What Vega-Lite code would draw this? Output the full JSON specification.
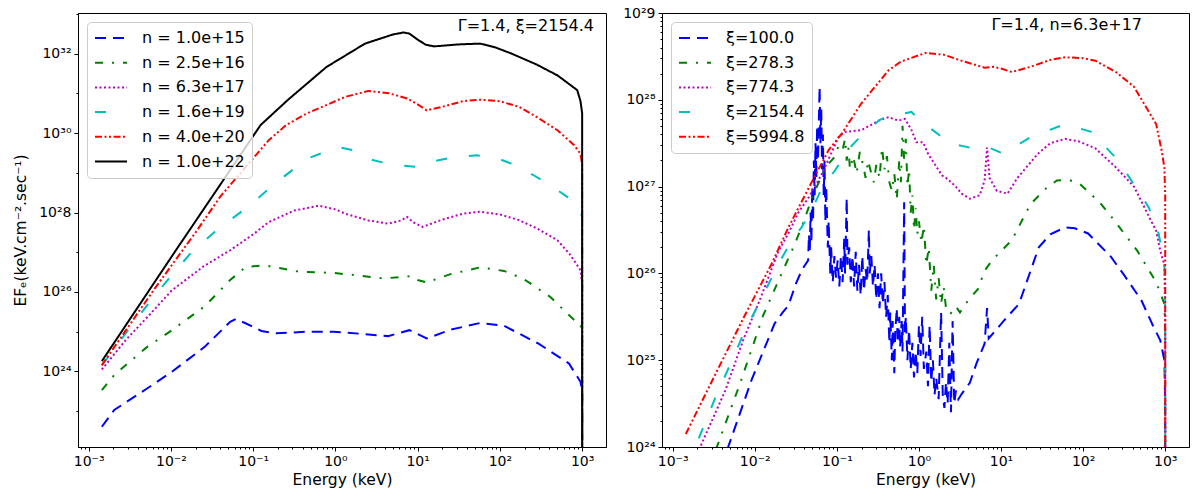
{
  "$schema": "https://vega.github.io/schema/vega-lite/v6.json",
  "background": "white",
  "padding": {"left": 13, "top": 5, "right": 5, "bottom": 5},
  "spacing": 15,
  "datasets": {
    "left": [
      {"s": "n = 1.0e+15", "E": 1.445e-3, "F": 4.074e22},
      {"s": "n = 1.0e+15", "E": 2.042e-3, "F": 1.072e23},
      {"s": "n = 1.0e+15", "E": 5.012e-3, "F": 3.631e23},
      {"s": "n = 1.0e+15", "E": 1.023e-2, "F": 9.772e23},
      {"s": "n = 1.0e+15", "E": 2.570e-2, "F": 4.169e24},
      {"s": "n = 1.0e+15", "E": 5.248e-2, "F": 1.778e25},
      {"s": "n = 1.0e+15", "E": 6.166e-2, "F": 2.089e25},
      {"s": "n = 1.0e+15", "E": 7.943e-2, "F": 1.660e25},
      {"s": "n = 1.0e+15", "E": 1.259e-1, "F": 1.047e25},
      {"s": "n = 1.0e+15", "E": 1.905e-1, "F": 9.120e24},
      {"s": "n = 1.0e+15", "E": 4.467e-1, "F": 1.0e25},
      {"s": "n = 1.0e+15", "E": 9.550e-1, "F": 1.0e25},
      {"s": "n = 1.0e+15", "E": 1.995, "F": 8.913e24},
      {"s": "n = 1.0e+15", "E": 4.365, "F": 7.762e24},
      {"s": "n = 1.0e+15", "E": 7.943, "F": 1.096e25},
      {"s": "n = 1.0e+15", "E": 12.88, "F": 6.761e24},
      {"s": "n = 1.0e+15", "E": 25.12, "F": 1.122e25},
      {"s": "n = 1.0e+15", "E": 57.54, "F": 1.660e25},
      {"s": "n = 1.0e+15", "E": 112.2, "F": 1.413e25},
      {"s": "n = 1.0e+15", "E": 295.1, "F": 5.012e24},
      {"s": "n = 1.0e+15", "E": 691.8, "F": 1.585e24},
      {"s": "n = 1.0e+15", "E": 955.0, "F": 5.495e23},
      {"s": "n = 1.0e+15", "E": 1000, "F": 3.162e23},
      {"s": "n = 1.0e+15", "E": 1002, "F": 1e15},

      {"s": "n = 2.5e+16", "E": 1.445e-3, "F": 3.388e23},
      {"s": "n = 2.5e+16", "E": 2.042e-3, "F": 8.128e23},
      {"s": "n = 2.5e+16", "E": 5.012e-3, "F": 3.981e24},
      {"s": "n = 2.5e+16", "E": 1.096e-2, "F": 1.202e25},
      {"s": "n = 2.5e+16", "E": 2.570e-2, "F": 4.365e25},
      {"s": "n = 2.5e+16", "E": 5.248e-2, "F": 1.995e26},
      {"s": "n = 2.5e+16", "E": 8.128e-2, "F": 4.266e26},
      {"s": "n = 2.5e+16", "E": 1.380e-1, "F": 4.677e26},
      {"s": "n = 2.5e+16", "E": 2.512e-1, "F": 3.715e26},
      {"s": "n = 2.5e+16", "E": 3.631e-1, "F": 3.236e26},
      {"s": "n = 2.5e+16", "E": 9.550e-1, "F": 3.020e26},
      {"s": "n = 2.5e+16", "E": 1.995, "F": 2.570e26},
      {"s": "n = 2.5e+16", "E": 3.890, "F": 2.188e26},
      {"s": "n = 2.5e+16", "E": 6.310, "F": 2.399e26},
      {"s": "n = 2.5e+16", "E": 8.318, "F": 2.512e26},
      {"s": "n = 2.5e+16", "E": 10.0, "F": 1.995e26},
      {"s": "n = 2.5e+16", "E": 12.88, "F": 1.738e26},
      {"s": "n = 2.5e+16", "E": 25.12, "F": 2.818e26},
      {"s": "n = 2.5e+16", "E": 57.54, "F": 4.169e26},
      {"s": "n = 2.5e+16", "E": 112.2, "F": 3.388e26},
      {"s": "n = 2.5e+16", "E": 190.5, "F": 2.188e26},
      {"s": "n = 2.5e+16", "E": 407.4, "F": 7.586e25},
      {"s": "n = 2.5e+16", "E": 562.3, "F": 3.981e25},
      {"s": "n = 2.5e+16", "E": 794.3, "F": 1.995e25},
      {"s": "n = 2.5e+16", "E": 955.0, "F": 1.585e25},
      {"s": "n = 2.5e+16", "E": 1000, "F": 7.943e24},
      {"s": "n = 2.5e+16", "E": 1002, "F": 1e15},

      {"s": "n = 6.3e+17", "E": 1.445e-3, "F": 1.122e24},
      {"s": "n = 6.3e+17", "E": 2.818e-3, "F": 6.166e24},
      {"s": "n = 6.3e+17", "E": 5.623e-3, "F": 2.818e25},
      {"s": "n = 6.3e+17", "E": 1.023e-2, "F": 1.096e26},
      {"s": "n = 6.3e+17", "E": 2.512e-2, "F": 4.467e26},
      {"s": "n = 6.3e+17", "E": 5.248e-2, "F": 1.122e27},
      {"s": "n = 6.3e+17", "E": 1.0e-1, "F": 2.818e27},
      {"s": "n = 6.3e+17", "E": 1.549e-1, "F": 5.754e27},
      {"s": "n = 6.3e+17", "E": 3.162e-1, "F": 1.122e28},
      {"s": "n = 6.3e+17", "E": 6.310e-1, "F": 1.479e28},
      {"s": "n = 6.3e+17", "E": 1.0, "F": 1.202e28},
      {"s": "n = 6.3e+17", "E": 1.318, "F": 9.333e27},
      {"s": "n = 6.3e+17", "E": 2.512, "F": 6.310e27},
      {"s": "n = 6.3e+17", "E": 4.365, "F": 5.248e27},
      {"s": "n = 6.3e+17", "E": 6.310, "F": 6.310e27},
      {"s": "n = 6.3e+17", "E": 7.413, "F": 7.762e27},
      {"s": "n = 6.3e+17", "E": 8.913, "F": 5.623e27},
      {"s": "n = 6.3e+17", "E": 11.48, "F": 4.365e27},
      {"s": "n = 6.3e+17", "E": 19.95, "F": 6.607e27},
      {"s": "n = 6.3e+17", "E": 35.48, "F": 9.333e27},
      {"s": "n = 6.3e+17", "E": 57.54, "F": 1.047e28},
      {"s": "n = 6.3e+17", "E": 100.0, "F": 8.913e27},
      {"s": "n = 6.3e+17", "E": 169.8, "F": 6.457e27},
      {"s": "n = 6.3e+17", "E": 281.8, "F": 3.981e27},
      {"s": "n = 6.3e+17", "E": 501.2, "F": 1.995e27},
      {"s": "n = 6.3e+17", "E": 707.9, "F": 8.913e26},
      {"s": "n = 6.3e+17", "E": 955.0, "F": 3.548e26},
      {"s": "n = 6.3e+17", "E": 1000, "F": 1.585e26},
      {"s": "n = 6.3e+17", "E": 1002, "F": 1e15},

      {"s": "n = 1.6e+19", "E": 1.445e-3, "F": 1.413e24},
      {"s": "n = 1.6e+19", "E": 3.162e-3, "F": 1.259e25},
      {"s": "n = 1.6e+19", "E": 6.026e-3, "F": 7.079e25},
      {"s": "n = 1.6e+19", "E": 1.0e-2, "F": 2.512e26},
      {"s": "n = 1.6e+19", "E": 1.778e-2, "F": 1.0e27},
      {"s": "n = 1.6e+19", "E": 3.802e-2, "F": 3.981e27},
      {"s": "n = 1.6e+19", "E": 8.128e-2, "F": 1.259e28},
      {"s": "n = 1.6e+19", "E": 1.905e-1, "F": 5.623e28},
      {"s": "n = 1.6e+19", "E": 4.467e-1, "F": 2.239e29},
      {"s": "n = 1.6e+19", "E": 1.072, "F": 4.467e29},
      {"s": "n = 1.6e+19", "E": 1.778, "F": 3.548e29},
      {"s": "n = 1.6e+19", "E": 2.818, "F": 2.089e29},
      {"s": "n = 1.6e+19", "E": 5.012, "F": 1.585e29},
      {"s": "n = 1.6e+19", "E": 9.333, "F": 1.413e29},
      {"s": "n = 1.6e+19", "E": 12.59, "F": 1.778e29},
      {"s": "n = 1.6e+19", "E": 25.12, "F": 2.399e29},
      {"s": "n = 1.6e+19", "E": 52.48, "F": 2.754e29},
      {"s": "n = 1.6e+19", "E": 89.13, "F": 2.399e29},
      {"s": "n = 1.6e+19", "E": 138.0, "F": 1.698e29},
      {"s": "n = 1.6e+19", "E": 251.2, "F": 8.913e28},
      {"s": "n = 1.6e+19", "E": 407.4, "F": 4.898e28},
      {"s": "n = 1.6e+19", "E": 631.0, "F": 2.630e28},
      {"s": "n = 1.6e+19", "E": 871.0, "F": 1.698e28},
      {"s": "n = 1.6e+19", "E": 1000, "F": 7.943e27},
      {"s": "n = 1.6e+19", "E": 1002, "F": 1e15},

      {"s": "n = 4.0e+20", "E": 1.445e-3, "F": 1.445e24},
      {"s": "n = 4.0e+20", "E": 6.310e-3, "F": 1.202e26},
      {"s": "n = 4.0e+20", "E": 1.995e-2, "F": 3.162e27},
      {"s": "n = 4.0e+20", "E": 3.981e-2, "F": 2.512e28},
      {"s": "n = 4.0e+20", "E": 8.128e-2, "F": 1.413e29},
      {"s": "n = 4.0e+20", "E": 1.549e-1, "F": 6.607e29},
      {"s": "n = 4.0e+20", "E": 2.512e-1, "F": 1.585e30},
      {"s": "n = 4.0e+20", "E": 4.467e-1, "F": 3.090e30},
      {"s": "n = 4.0e+20", "E": 1.318, "F": 8.128e30},
      {"s": "n = 4.0e+20", "E": 2.512, "F": 1.148e31},
      {"s": "n = 4.0e+20", "E": 4.467, "F": 1.0e31},
      {"s": "n = 4.0e+20", "E": 7.413, "F": 7.413e30},
      {"s": "n = 4.0e+20", "E": 10.0, "F": 5.248e30},
      {"s": "n = 4.0e+20", "E": 12.88, "F": 3.715e30},
      {"s": "n = 4.0e+20", "E": 19.95, "F": 4.571e30},
      {"s": "n = 4.0e+20", "E": 35.48, "F": 6.310e30},
      {"s": "n = 4.0e+20", "E": 57.54, "F": 6.918e30},
      {"s": "n = 4.0e+20", "E": 100.0, "F": 6.310e30},
      {"s": "n = 4.0e+20", "E": 169.8, "F": 4.571e30},
      {"s": "n = 4.0e+20", "E": 281.8, "F": 2.512e30},
      {"s": "n = 4.0e+20", "E": 501.2, "F": 1.175e30},
      {"s": "n = 4.0e+20", "E": 794.3, "F": 5.012e29},
      {"s": "n = 4.0e+20", "E": 955.0, "F": 3.020e29},
      {"s": "n = 4.0e+20", "E": 1000, "F": 1.585e29},
      {"s": "n = 4.0e+20", "E": 1002, "F": 1e15},

      {"s": "n = 1.0e+22", "E": 1.445e-3, "F": 1.820e24},
      {"s": "n = 1.0e+22", "E": 1.148e-2, "F": 1.122e27},
      {"s": "n = 1.0e+22", "E": 1.230e-1, "F": 1.585e30},
      {"s": "n = 1.0e+22", "E": 2.630e-1, "F": 6.761e30},
      {"s": "n = 1.0e+22", "E": 7.762e-1, "F": 4.571e31},
      {"s": "n = 1.0e+22", "E": 2.291, "F": 1.778e32},
      {"s": "n = 1.0e+22", "E": 5.012, "F": 3.020e32},
      {"s": "n = 1.0e+22", "E": 6.761, "F": 3.388e32},
      {"s": "n = 1.0e+22", "E": 7.943, "F": 3.162e32},
      {"s": "n = 1.0e+22", "E": 10.0, "F": 2.239e32},
      {"s": "n = 1.0e+22", "E": 12.59, "F": 1.660e32},
      {"s": "n = 1.0e+22", "E": 15.85, "F": 1.514e32},
      {"s": "n = 1.0e+22", "E": 31.62, "F": 1.698e32},
      {"s": "n = 1.0e+22", "E": 57.54, "F": 1.778e32},
      {"s": "n = 1.0e+22", "E": 89.13, "F": 1.413e32},
      {"s": "n = 1.0e+22", "E": 138.0, "F": 1.0e32},
      {"s": "n = 1.0e+22", "E": 281.8, "F": 5.248e31},
      {"s": "n = 1.0e+22", "E": 501.2, "F": 2.818e31},
      {"s": "n = 1.0e+22", "E": 871.0, "F": 1.202e31},
      {"s": "n = 1.0e+22", "E": 955.0, "F": 6.310e30},
      {"s": "n = 1.0e+22", "E": 1000, "F": 3.162e30},
      {"s": "n = 1.0e+22", "E": 1002, "F": 1e15}
    ],
    "right": [
      {"s": "ξ=100.0", "E": 1.445e-3, "F": 3.981e22},
      {"s": "ξ=100.0", "E": 2.512e-3, "F": 1.778e23},
      {"s": "ξ=100.0", "E": 4.786e-3, "F": 1.023e24},
      {"s": "ξ=100.0", "E": 9.120e-3, "F": 5.888e24},
      {"s": "ξ=100.0", "E": 1.738e-2, "F": 2.630e25},
      {"s": "ξ=100.0", "E": 2.188e-2, "F": 3.548e25},
      {"s": "ξ=100.0", "E": 2.570e-2, "F": 4.266e25},
      {"s": "ξ=100.0", "E": 3.162e-2, "F": 7.586e25},
      {"s": "ξ=100.0", "E": 3.802e-2, "F": 1.122e26},
      {"s": "ξ=100.0", "E": 4.467e-2, "F": 1.413e26},
      {"s": "ξ=100.0", "E": 4.571e-2, "F": 2.818e26},
      {"s": "ξ=100.0", "E": 4.677e-2, "F": 1.778e26},
      {"s": "ξ=100.0", "E": 4.786e-2, "F": 5.012e26},
      {"s": "ξ=100.0", "E": 4.898e-2, "F": 2.239e26},
      {"s": "ξ=100.0", "E": 5.012e-2, "F": 1.0e27},
      {"s": "ξ=100.0", "E": 5.129e-2, "F": 3.981e26},
      {"s": "ξ=100.0", "E": 5.248e-2, "F": 1.995e27},
      {"s": "ξ=100.0", "E": 5.370e-2, "F": 7.943e26},
      {"s": "ξ=100.0", "E": 5.495e-2, "F": 3.162e27},
      {"s": "ξ=100.0", "E": 5.623e-2, "F": 1.259e27},
      {"s": "ξ=100.0", "E": 5.754e-2, "F": 5.012e27},
      {"s": "ξ=100.0", "E": 5.888e-2, "F": 1.995e27},
      {"s": "ξ=100.0", "E": 6.166e-2, "F": 1.413e28},
      {"s": "ξ=100.0", "E": 6.310e-2, "F": 3.162e27},
      {"s": "ξ=100.0", "E": 6.457e-2, "F": 7.943e27},
      {"s": "ξ=100.0", "E": 6.607e-2, "F": 1.585e27},
      {"s": "ξ=100.0", "E": 6.761e-2, "F": 3.981e27},
      {"s": "ξ=100.0", "E": 6.918e-2, "F": 7.943e26},
      {"s": "ξ=100.0", "E": 7.079e-2, "F": 1.995e27},
      {"s": "ξ=100.0", "E": 7.244e-2, "F": 3.981e26},
      {"s": "ξ=100.0", "E": 7.413e-2, "F": 1.0e27},
      {"s": "ξ=100.0", "E": 7.762e-2, "F": 1.995e26},
      {"s": "ξ=100.0", "E": 7.943e-2, "F": 3.981e26},
      {"s": "ξ=100.0", "E": 8.318e-2, "F": 1.0e26},
      {"s": "ξ=100.0", "E": 8.511e-2, "F": 1.995e26},
      {"s": "ξ=100.0", "E": 8.913e-2, "F": 7.943e25},
      {"s": "ξ=100.0", "E": 9.333e-2, "F": 1.585e26},
      {"s": "ξ=100.0", "E": 9.772e-2, "F": 8.913e25},
      {"s": "ξ=100.0", "E": 1.023e-1, "F": 1.413e26},
      {"s": "ξ=100.0", "E": 1.072e-1, "F": 7.079e25},
      {"s": "ξ=100.0", "E": 1.122e-1, "F": 1.585e26},
      {"s": "ξ=100.0", "E": 1.175e-1, "F": 7.943e25},
      {"s": "ξ=100.0", "E": 1.230e-1, "F": 2.512e26},
      {"s": "ξ=100.0", "E": 1.259e-1, "F": 1.0e26},
      {"s": "ξ=100.0", "E": 1.318e-1, "F": 7.413e26},
      {"s": "ξ=100.0", "E": 1.349e-1, "F": 1.259e26},
      {"s": "ξ=100.0", "E": 1.413e-1, "F": 1.995e26},
      {"s": "ξ=100.0", "E": 1.479e-1, "F": 7.943e25},
      {"s": "ξ=100.0", "E": 1.549e-1, "F": 1.585e26},
      {"s": "ξ=100.0", "E": 1.622e-1, "F": 7.079e25},
      {"s": "ξ=100.0", "E": 1.698e-1, "F": 1.778e26},
      {"s": "ξ=100.0", "E": 1.778e-1, "F": 6.310e25},
      {"s": "ξ=100.0", "E": 1.862e-1, "F": 1.259e26},
      {"s": "ξ=100.0", "E": 1.950e-1, "F": 5.623e25},
      {"s": "ξ=100.0", "E": 2.042e-1, "F": 1.585e26},
      {"s": "ξ=100.0", "E": 2.138e-1, "F": 6.310e25},
      {"s": "ξ=100.0", "E": 2.239e-1, "F": 1.122e26},
      {"s": "ξ=100.0", "E": 2.344e-1, "F": 7.943e25},
      {"s": "ξ=100.0", "E": 2.455e-1, "F": 3.162e26},
      {"s": "ξ=100.0", "E": 2.512e-1, "F": 1.0e26},
      {"s": "ξ=100.0", "E": 2.630e-1, "F": 1.585e26},
      {"s": "ξ=100.0", "E": 2.754e-1, "F": 7.079e25},
      {"s": "ξ=100.0", "E": 2.884e-1, "F": 1.259e26},
      {"s": "ξ=100.0", "E": 3.020e-1, "F": 5.012e25},
      {"s": "ξ=100.0", "E": 3.162e-1, "F": 1.0e26},
      {"s": "ξ=100.0", "E": 3.311e-1, "F": 3.981e25},
      {"s": "ξ=100.0", "E": 3.467e-1, "F": 1.0e26},
      {"s": "ξ=100.0", "E": 3.631e-1, "F": 4.467e25},
      {"s": "ξ=100.0", "E": 3.802e-1, "F": 7.943e25},
      {"s": "ξ=100.0", "E": 3.981e-1, "F": 3.162e25},
      {"s": "ξ=100.0", "E": 4.169e-1, "F": 5.623e25},
      {"s": "ξ=100.0", "E": 4.365e-1, "F": 1.585e25},
      {"s": "ξ=100.0", "E": 4.467e-1, "F": 3.548e25},
      {"s": "ξ=100.0", "E": 4.677e-1, "F": 1.0e25},
      {"s": "ξ=100.0", "E": 4.786e-1, "F": 2.818e25},
      {"s": "ξ=100.0", "E": 5.012e-1, "F": 7.079e24},
      {"s": "ξ=100.0", "E": 5.129e-1, "F": 1.995e25},
      {"s": "ξ=100.0", "E": 5.370e-1, "F": 3.981e25},
      {"s": "ξ=100.0", "E": 5.495e-1, "F": 1.585e25},
      {"s": "ξ=100.0", "E": 5.754e-1, "F": 3.162e25},
      {"s": "ξ=100.0", "E": 5.888e-1, "F": 1.413e25},
      {"s": "ξ=100.0", "E": 6.166e-1, "F": 2.818e25},
      {"s": "ξ=100.0", "E": 6.310e-1, "F": 1.259e25},
      {"s": "ξ=100.0", "E": 6.607e-1, "F": 6.607e26},
      {"s": "ξ=100.0", "E": 6.761e-1, "F": 1.995e25},
      {"s": "ξ=100.0", "E": 6.918e-1, "F": 3.162e25},
      {"s": "ξ=100.0", "E": 7.244e-1, "F": 1.0e25},
      {"s": "ξ=100.0", "E": 7.586e-1, "F": 2.239e25},
      {"s": "ξ=100.0", "E": 7.943e-1, "F": 7.943e24},
      {"s": "ξ=100.0", "E": 8.318e-1, "F": 1.585e25},
      {"s": "ξ=100.0", "E": 8.710e-1, "F": 6.310e24},
      {"s": "ξ=100.0", "E": 9.120e-1, "F": 1.259e25},
      {"s": "ξ=100.0", "E": 9.550e-1, "F": 7.079e24},
      {"s": "ξ=100.0", "E": 1.0, "F": 2.512e25},
      {"s": "ξ=100.0", "E": 1.047, "F": 1.122e25},
      {"s": "ξ=100.0", "E": 1.096, "F": 3.162e25},
      {"s": "ξ=100.0", "E": 1.148, "F": 7.943e24},
      {"s": "ξ=100.0", "E": 1.230, "F": 1.259e25},
      {"s": "ξ=100.0", "E": 1.288, "F": 5.012e24},
      {"s": "ξ=100.0", "E": 1.349, "F": 2.512e25},
      {"s": "ξ=100.0", "E": 1.413, "F": 5.623e24},
      {"s": "ξ=100.0", "E": 1.479, "F": 1.0e25},
      {"s": "ξ=100.0", "E": 1.549, "F": 3.981e24},
      {"s": "ξ=100.0", "E": 1.622, "F": 6.310e24},
      {"s": "ξ=100.0", "E": 1.738, "F": 3.548e24},
      {"s": "ξ=100.0", "E": 1.862, "F": 3.548e25},
      {"s": "ξ=100.0", "E": 1.950, "F": 3.981e24},
      {"s": "ξ=100.0", "E": 2.042, "F": 2.818e24},
      {"s": "ξ=100.0", "E": 2.138, "F": 5.623e24},
      {"s": "ξ=100.0", "E": 2.239, "F": 3.162e24},
      {"s": "ξ=100.0", "E": 2.344, "F": 1.585e25},
      {"s": "ξ=100.0", "E": 2.455, "F": 2.512e24},
      {"s": "ξ=100.0", "E": 2.570, "F": 2.818e25},
      {"s": "ξ=100.0", "E": 2.692, "F": 3.162e24},
      {"s": "ξ=100.0", "E": 2.818, "F": 4.467e24},
      {"s": "ξ=100.0", "E": 3.020, "F": 3.548e24},
      {"s": "ξ=100.0", "E": 3.311, "F": 4.074e24},
      {"s": "ξ=100.0", "E": 4.169, "F": 5.495e24},
      {"s": "ξ=100.0", "E": 5.012, "F": 9.120e24},
      {"s": "ξ=100.0", "E": 6.310, "F": 1.549e25},
      {"s": "ξ=100.0", "E": 6.761, "F": 3.981e25},
      {"s": "ξ=100.0", "E": 7.079, "F": 1.778e25},
      {"s": "ξ=100.0", "E": 10.72, "F": 2.818e25},
      {"s": "ξ=100.0", "E": 16.60, "F": 4.467e25},
      {"s": "ξ=100.0", "E": 22.91, "F": 1.072e26},
      {"s": "ξ=100.0", "E": 28.84, "F": 1.995e26},
      {"s": "ξ=100.0", "E": 39.81, "F": 2.818e26},
      {"s": "ξ=100.0", "E": 60.26, "F": 3.388e26},
      {"s": "ξ=100.0", "E": 79.43, "F": 3.311e26},
      {"s": "ξ=100.0", "E": 114.8, "F": 2.884e26},
      {"s": "ξ=100.0", "E": 218.8, "F": 1.549e26},
      {"s": "ξ=100.0", "E": 316.2, "F": 9.550e25},
      {"s": "ξ=100.0", "E": 512.9, "F": 4.898e25},
      {"s": "ξ=100.0", "E": 707.9, "F": 2.512e25},
      {"s": "ξ=100.0", "E": 871.0, "F": 1.698e25},
      {"s": "ξ=100.0", "E": 977.2, "F": 1.0e25},
      {"s": "ξ=100.0", "E": 1000, "F": 3.162e24},
      {"s": "ξ=100.0", "E": 1002, "F": 1e15},

      {"s": "ξ=278.3", "E": 1.445e-3, "F": 1.175e23},
      {"s": "ξ=278.3", "E": 3.548e-3, "F": 1.072e24},
      {"s": "ξ=278.3", "E": 6.607e-3, "F": 5.370e24},
      {"s": "ξ=278.3", "E": 1.259e-2, "F": 3.236e25},
      {"s": "ξ=278.3", "E": 1.950e-2, "F": 8.318e25},
      {"s": "ξ=278.3", "E": 2.951e-2, "F": 1.995e26},
      {"s": "ξ=278.3", "E": 3.715e-2, "F": 3.388e26},
      {"s": "ξ=278.3", "E": 5.129e-2, "F": 7.943e26},
      {"s": "ξ=278.3", "E": 7.244e-2, "F": 1.660e27},
      {"s": "ξ=278.3", "E": 9.550e-2, "F": 2.239e27},
      {"s": "ξ=278.3", "E": 1.047e-1, "F": 2.951e27},
      {"s": "ξ=278.3", "E": 1.175e-1, "F": 2.630e27},
      {"s": "ξ=278.3", "E": 1.259e-1, "F": 3.548e27},
      {"s": "ξ=278.3", "E": 1.318e-1, "F": 1.995e27},
      {"s": "ξ=278.3", "E": 1.380e-1, "F": 2.818e27},
      {"s": "ξ=278.3", "E": 1.445e-1, "F": 1.585e27},
      {"s": "ξ=278.3", "E": 1.585e-1, "F": 2.239e27},
      {"s": "ξ=278.3", "E": 1.738e-1, "F": 1.413e27},
      {"s": "ξ=278.3", "E": 1.905e-1, "F": 2.512e27},
      {"s": "ξ=278.3", "E": 2.089e-1, "F": 1.778e27},
      {"s": "ξ=278.3", "E": 2.239e-1, "F": 1.259e27},
      {"s": "ξ=278.3", "E": 2.399e-1, "F": 1.995e27},
      {"s": "ξ=278.3", "E": 2.630e-1, "F": 1.413e27},
      {"s": "ξ=278.3", "E": 2.818e-1, "F": 1.122e27},
      {"s": "ξ=278.3", "E": 3.020e-1, "F": 1.778e27},
      {"s": "ξ=278.3", "E": 3.311e-1, "F": 1.259e27},
      {"s": "ξ=278.3", "E": 3.548e-1, "F": 2.818e27},
      {"s": "ξ=278.3", "E": 3.802e-1, "F": 1.585e27},
      {"s": "ξ=278.3", "E": 4.074e-1, "F": 2.239e27},
      {"s": "ξ=278.3", "E": 4.365e-1, "F": 1.122e27},
      {"s": "ξ=278.3", "E": 4.677e-1, "F": 8.913e26},
      {"s": "ξ=278.3", "E": 5.012e-1, "F": 1.413e27},
      {"s": "ξ=278.3", "E": 5.370e-1, "F": 7.079e26},
      {"s": "ξ=278.3", "E": 5.754e-1, "F": 1.995e27},
      {"s": "ξ=278.3", "E": 6.026e-1, "F": 1.122e27},
      {"s": "ξ=278.3", "E": 6.310e-1, "F": 5.012e27},
      {"s": "ξ=278.3", "E": 6.607e-1, "F": 1.995e27},
      {"s": "ξ=278.3", "E": 6.918e-1, "F": 3.548e27},
      {"s": "ξ=278.3", "E": 7.244e-1, "F": 1.0e27},
      {"s": "ξ=278.3", "E": 7.586e-1, "F": 1.585e27},
      {"s": "ξ=278.3", "E": 7.943e-1, "F": 5.012e26},
      {"s": "ξ=278.3", "E": 8.318e-1, "F": 7.943e26},
      {"s": "ξ=278.3", "E": 8.710e-1, "F": 3.162e26},
      {"s": "ξ=278.3", "E": 9.120e-1, "F": 5.623e26},
      {"s": "ξ=278.3", "E": 9.550e-1, "F": 2.818e26},
      {"s": "ξ=278.3", "E": 1.0, "F": 3.981e26},
      {"s": "ξ=278.3", "E": 1.072, "F": 2.239e26},
      {"s": "ξ=278.3", "E": 1.148, "F": 3.548e26},
      {"s": "ξ=278.3", "E": 1.230, "F": 1.259e26},
      {"s": "ξ=278.3", "E": 1.318, "F": 1.995e26},
      {"s": "ξ=278.3", "E": 1.413, "F": 6.310e25},
      {"s": "ξ=278.3", "E": 1.514, "F": 1.259e26},
      {"s": "ξ=278.3", "E": 1.622, "F": 5.012e25},
      {"s": "ξ=278.3", "E": 1.738, "F": 8.913e25},
      {"s": "ξ=278.3", "E": 1.862, "F": 4.467e25},
      {"s": "ξ=278.3", "E": 1.995, "F": 7.079e25},
      {"s": "ξ=278.3", "E": 2.138, "F": 3.981e25},
      {"s": "ξ=278.3", "E": 2.399, "F": 3.388e25},
      {"s": "ξ=278.3", "E": 2.818, "F": 4.169e25},
      {"s": "ξ=278.3", "E": 3.162, "F": 3.548e25},
      {"s": "ξ=278.3", "E": 3.981, "F": 4.898e25},
      {"s": "ξ=278.3", "E": 5.248, "F": 6.607e25},
      {"s": "ξ=278.3", "E": 6.310, "F": 1.072e26},
      {"s": "ξ=278.3", "E": 7.762, "F": 1.413e26},
      {"s": "ξ=278.3", "E": 13.49, "F": 2.399e26},
      {"s": "ξ=278.3", "E": 22.91, "F": 6.310e26},
      {"s": "ξ=278.3", "E": 35.48, "F": 9.550e26},
      {"s": "ξ=278.3", "E": 47.86, "F": 1.175e27},
      {"s": "ξ=278.3", "E": 66.07, "F": 1.202e27},
      {"s": "ξ=278.3", "E": 91.20, "F": 1.072e27},
      {"s": "ξ=278.3", "E": 158.5, "F": 6.607e26},
      {"s": "ξ=278.3", "E": 239.9, "F": 4.074e26},
      {"s": "ξ=278.3", "E": 457.1, "F": 1.820e26},
      {"s": "ξ=278.3", "E": 776.2, "F": 7.943e25},
      {"s": "ξ=278.3", "E": 977.2, "F": 4.467e25},
      {"s": "ξ=278.3", "E": 1000, "F": 1.995e25},
      {"s": "ξ=278.3", "E": 1002, "F": 1e15},

      {"s": "ξ=774.3", "E": 1.445e-3, "F": 4.365e23},
      {"s": "ξ=774.3", "E": 2.188e-3, "F": 1.023e24},
      {"s": "ξ=774.3", "E": 4.365e-3, "F": 4.467e24},
      {"s": "ξ=774.3", "E": 7.413e-3, "F": 1.820e25},
      {"s": "ξ=774.3", "E": 1.148e-2, "F": 4.898e25},
      {"s": "ξ=774.3", "E": 1.950e-2, "F": 1.820e26},
      {"s": "ξ=774.3", "E": 2.570e-2, "F": 2.884e26},
      {"s": "ξ=774.3", "E": 3.388e-2, "F": 5.012e26},
      {"s": "ξ=774.3", "E": 4.571e-2, "F": 7.586e26},
      {"s": "ξ=774.3", "E": 6.607e-2, "F": 1.413e27},
      {"s": "ξ=774.3", "E": 1.047e-1, "F": 3.715e27},
      {"s": "ξ=774.3", "E": 1.259e-1, "F": 4.266e27},
      {"s": "ξ=774.3", "E": 1.995e-1, "F": 4.467e27},
      {"s": "ξ=774.3", "E": 3.236e-1, "F": 5.754e27},
      {"s": "ξ=774.3", "E": 4.266e-1, "F": 6.310e27},
      {"s": "ξ=774.3", "E": 5.623e-1, "F": 5.754e27},
      {"s": "ξ=774.3", "E": 6.761e-1, "F": 6.026e27},
      {"s": "ξ=774.3", "E": 8.128e-1, "F": 4.467e27},
      {"s": "ξ=774.3", "E": 9.333e-1, "F": 3.236e27},
      {"s": "ξ=774.3", "E": 1.122, "F": 3.236e27},
      {"s": "ξ=774.3", "E": 1.288, "F": 2.399e27},
      {"s": "ξ=774.3", "E": 1.905, "F": 1.349e27},
      {"s": "ξ=774.3", "E": 2.138, "F": 1.259e27},
      {"s": "ξ=774.3", "E": 2.754, "F": 1.023e27},
      {"s": "ξ=774.3", "E": 3.311, "F": 8.318e26},
      {"s": "ξ=774.3", "E": 4.169, "F": 7.244e26},
      {"s": "ξ=774.3", "E": 5.495, "F": 7.943e26},
      {"s": "ξ=774.3", "E": 6.310, "F": 1.175e27},
      {"s": "ξ=774.3", "E": 6.761, "F": 2.818e27},
      {"s": "ξ=774.3", "E": 7.244, "F": 1.259e27},
      {"s": "ξ=774.3", "E": 8.913, "F": 8.913e26},
      {"s": "ξ=774.3", "E": 12.02, "F": 8.318e26},
      {"s": "ξ=774.3", "E": 15.85, "F": 1.259e27},
      {"s": "ξ=774.3", "E": 28.18, "F": 2.399e27},
      {"s": "ξ=774.3", "E": 39.81, "F": 3.162e27},
      {"s": "ξ=774.3", "E": 60.26, "F": 3.548e27},
      {"s": "ξ=774.3", "E": 89.13, "F": 3.311e27},
      {"s": "ξ=774.3", "E": 141.3, "F": 2.754e27},
      {"s": "ξ=774.3", "E": 251.2, "F": 1.660e27},
      {"s": "ξ=774.3", "E": 416.9, "F": 1.0e27},
      {"s": "ξ=774.3", "E": 776.2, "F": 3.090e26},
      {"s": "ξ=774.3", "E": 871.0, "F": 1.820e26},
      {"s": "ξ=774.3", "E": 977.2, "F": 1.259e26},
      {"s": "ξ=774.3", "E": 1000, "F": 3.162e25},
      {"s": "ξ=774.3", "E": 1002, "F": 1e15},

      {"s": "ξ=2154.4", "E": 1.445e-3, "F": 5.623e23},
      {"s": "ξ=2154.4", "E": 2.188e-3, "F": 1.413e24},
      {"s": "ξ=2154.4", "E": 3.311e-3, "F": 3.715e24},
      {"s": "ξ=2154.4", "E": 5.129e-3, "F": 9.333e24},
      {"s": "ξ=2154.4", "E": 7.413e-3, "F": 2.089e25},
      {"s": "ξ=2154.4", "E": 1.202e-2, "F": 5.129e25},
      {"s": "ξ=2154.4", "E": 1.950e-2, "F": 1.288e26},
      {"s": "ξ=2154.4", "E": 2.818e-2, "F": 2.399e26},
      {"s": "ξ=2154.4", "E": 3.715e-2, "F": 3.388e26},
      {"s": "ξ=2154.4", "E": 5.248e-2, "F": 6.026e26},
      {"s": "ξ=2154.4", "E": 6.607e-2, "F": 9.772e26},
      {"s": "ξ=2154.4", "E": 9.550e-2, "F": 1.549e27},
      {"s": "ξ=2154.4", "E": 1.445e-1, "F": 2.818e27},
      {"s": "ξ=2154.4", "E": 1.820e-1, "F": 3.548e27},
      {"s": "ξ=2154.4", "E": 3.236e-1, "F": 5.754e27},
      {"s": "ξ=2154.4", "E": 4.266e-1, "F": 6.607e27},
      {"s": "ξ=2154.4", "E": 6.310e-1, "F": 6.918e27},
      {"s": "ξ=2154.4", "E": 8.128e-1, "F": 7.244e27},
      {"s": "ξ=2154.4", "E": 9.772e-1, "F": 6.026e27},
      {"s": "ξ=2154.4", "E": 1.905, "F": 3.715e27},
      {"s": "ξ=2154.4", "E": 2.138, "F": 3.236e27},
      {"s": "ξ=2154.4", "E": 4.571, "F": 2.754e27},
      {"s": "ξ=2154.4", "E": 5.754, "F": 2.951e27},
      {"s": "ξ=2154.4", "E": 7.079, "F": 2.818e27},
      {"s": "ξ=2154.4", "E": 10.72, "F": 2.399e27},
      {"s": "ξ=2154.4", "E": 22.91, "F": 3.715e27},
      {"s": "ξ=2154.4", "E": 60.26, "F": 5.248e27},
      {"s": "ξ=2154.4", "E": 125.9, "F": 4.266e27},
      {"s": "ξ=2154.4", "E": 269.2, "F": 1.995e27},
      {"s": "ξ=2154.4", "E": 631.0, "F": 5.754e26},
      {"s": "ξ=2154.4", "E": 831.8, "F": 2.884e26},
      {"s": "ξ=2154.4", "E": 977.2, "F": 1.259e26},
      {"s": "ξ=2154.4", "E": 1000, "F": 3.981e25},
      {"s": "ξ=2154.4", "E": 1002, "F": 1e15},

      {"s": "ξ=5994.8", "E": 1.445e-3, "F": 1.413e24},
      {"s": "ξ=5994.8", "E": 3.162e-3, "F": 6.310e24},
      {"s": "ξ=5994.8", "E": 7.413e-3, "F": 3.162e25},
      {"s": "ξ=5994.8", "E": 1.585e-2, "F": 1.259e26},
      {"s": "ξ=5994.8", "E": 2.570e-2, "F": 3.388e26},
      {"s": "ξ=5994.8", "E": 4.571e-2, "F": 9.772e26},
      {"s": "ξ=5994.8", "E": 7.943e-2, "F": 2.630e27},
      {"s": "ξ=5994.8", "E": 1.148e-1, "F": 4.074e27},
      {"s": "ξ=5994.8", "E": 1.995e-1, "F": 9.120e27},
      {"s": "ξ=5994.8", "E": 4.266e-1, "F": 2.188e28},
      {"s": "ξ=5994.8", "E": 6.026e-1, "F": 2.754e28},
      {"s": "ξ=5994.8", "E": 1.202, "F": 3.467e28},
      {"s": "ξ=5994.8", "E": 1.995, "F": 3.311e28},
      {"s": "ξ=5994.8", "E": 3.311, "F": 2.818e28},
      {"s": "ξ=5994.8", "E": 6.310, "F": 2.344e28},
      {"s": "ξ=5994.8", "E": 7.943, "F": 2.399e28},
      {"s": "ξ=5994.8", "E": 10.0, "F": 2.291e28},
      {"s": "ξ=5994.8", "E": 13.49, "F": 2.089e28},
      {"s": "ξ=5994.8", "E": 22.91, "F": 2.399e28},
      {"s": "ξ=5994.8", "E": 39.81, "F": 2.884e28},
      {"s": "ξ=5994.8", "E": 60.26, "F": 3.090e28},
      {"s": "ξ=5994.8", "E": 100.0, "F": 3.020e28},
      {"s": "ξ=5994.8", "E": 141.3, "F": 2.818e28},
      {"s": "ξ=5994.8", "E": 251.2, "F": 2.089e28},
      {"s": "ξ=5994.8", "E": 416.9, "F": 1.413e28},
      {"s": "ξ=5994.8", "E": 776.2, "F": 5.248e27},
      {"s": "ξ=5994.8", "E": 912.0, "F": 2.512e27},
      {"s": "ξ=5994.8", "E": 977.2, "F": 1.660e27},
      {"s": "ξ=5994.8", "E": 1000, "F": 7.943e26},
      {"s": "ξ=5994.8", "E": 1002, "F": 1e15}
    ]
  },
  "hconcat": [
    {
      "width": 528,
      "height": 434,
      "data": {"name": "left"},
      "title": {"text": "Γ=1.4, ξ=2154.4", "anchor": "end", "frame": "group", "offset": -27, "dx": -12},
      "mark": {"type": "line", "clip": true, "strokeWidth": 2},
      "encoding": {
        "x": {
          "field": "E", "type": "quantitative", "title": "Energy (keV)",
          "scale": {"type": "log", "domain": [7.41e-4, 1950], "nice": false},
          "axis": {
            "values": [0.0008,0.0009,0.001,0.002,0.003,0.004,0.005,0.006,0.007,0.008,0.009,0.01,0.02,0.03,0.04,0.05,0.06,0.07,0.08,0.09,0.1,0.2,0.3,0.4,0.5,0.6,0.7,0.8,0.9,1,2,3,4,5,6,7,8,9,10,20,30,40,50,60,70,80,90,100,200,300,400,500,600,700,800,900,1000],
            "labelOverlap": false,
            "labelExpr": "abs(log(datum.value)/LN10 - round(log(datum.value)/LN10)) < 0.001 ? '10' + replace(replace(replace(replace(replace(toString(round(log(datum.value)/LN10)), '-', '⁻'), '0', '⁰'), '1', '¹'), '2', '²'), '3', '³') : ''",
            "tickSize": {"condition": {"test": "abs(log(datum.value)/LN10 - round(log(datum.value)/LN10)) > 0.001", "value": 2}, "value": 4}
          }
        },
        "y": {
          "field": "F", "type": "quantitative", "title": "EFₑ(keV.cm⁻².sec⁻¹)",
          "scale": {"type": "log", "domain": [1.259e22, 1.047e33], "nice": false},
          "axis": {
            "values": [1e23,1e24,1e25,1e26,1e27,1e28,1e29,1e30,1e31,1e32,1e33],
            "labelOverlap": false,
            "titlePadding": 10,
            "labelExpr": "round(log(datum.value)/LN10) % 2 == 0 ? '10' + replace(replace(replace(replace(replace(toString(round(log(datum.value)/LN10)), regexp('2','g'), '²'), regexp('3','g'), '³'), '4', '⁴'), '6', '⁶'), '0', '⁰') : ''",
            "tickSize": {"condition": {"test": "round(log(datum.value)/LN10) % 2 != 0", "value": 2}, "value": 4}
          }
        },
        "color": {
          "field": "s", "type": "nominal",
          "scale": {"domain": ["n = 1.0e+15","n = 2.5e+16","n = 6.3e+17","n = 1.6e+19","n = 4.0e+20","n = 1.0e+22"], "range": ["#0000ff","#008000","#bf00bf","#00bfbf","#ff0000","#000000"]},
          "legend": {"title": null}
        },
        "strokeDash": {
          "field": "s", "type": "nominal",
          "scale": {"domain": ["n = 1.0e+15","n = 2.5e+16","n = 6.3e+17","n = 1.6e+19","n = 4.0e+20","n = 1.0e+22"], "range": [[11,7],[8,9,2,9],[2,2.5],[11,22],[7,2.5,2,2.5,2,2.5],[1,0]]},
          "legend": {"title": null}
        }
      }
    },
    {
      "width": 527,
      "height": 434,
      "data": {"name": "right"},
      "title": {"text": "Γ=1.4, n=6.3e+17", "anchor": "end", "frame": "group", "offset": -27, "dx": -47},
      "mark": {"type": "line", "clip": true, "strokeWidth": 2},
      "encoding": {
        "x": {
          "field": "E", "type": "quantitative", "title": "Energy (keV)",
          "scale": {"type": "log", "domain": [7.41e-4, 1950], "nice": false},
          "axis": {
            "values": [0.0008,0.0009,0.001,0.002,0.003,0.004,0.005,0.006,0.007,0.008,0.009,0.01,0.02,0.03,0.04,0.05,0.06,0.07,0.08,0.09,0.1,0.2,0.3,0.4,0.5,0.6,0.7,0.8,0.9,1,2,3,4,5,6,7,8,9,10,20,30,40,50,60,70,80,90,100,200,300,400,500,600,700,800,900,1000],
            "labelOverlap": false,
            "labelExpr": "abs(log(datum.value)/LN10 - round(log(datum.value)/LN10)) < 0.001 ? '10' + replace(replace(replace(replace(replace(toString(round(log(datum.value)/LN10)), '-', '⁻'), '0', '⁰'), '1', '¹'), '2', '²'), '3', '³') : ''",
            "tickSize": {"condition": {"test": "abs(log(datum.value)/LN10 - round(log(datum.value)/LN10)) > 0.001", "value": 2}, "value": 4}
          }
        },
        "y": {
          "field": "F", "type": "quantitative", "title": null,
          "scale": {"type": "log", "domain": [1e24, 1e29], "nice": false},
          "axis": {
            "values": [1e24,2e24,3e24,4e24,5e24,6e24,7e24,8e24,9e24,1e25,2e25,3e25,4e25,5e25,6e25,7e25,8e25,9e25,1e26,2e26,3e26,4e26,5e26,6e26,7e26,8e26,9e26,1e27,2e27,3e27,4e27,5e27,6e27,7e27,8e27,9e27,1e28,2e28,3e28,4e28,5e28,6e28,7e28,8e28,9e28,1e29],
            "labelOverlap": false,
            "labelExpr": "abs(log(datum.value)/LN10 - round(log(datum.value)/LN10)) < 0.001 ? '10' + replace(replace(replace(replace(replace(replace(toString(round(log(datum.value)/LN10)), '2', '²'), '4', '⁴'), '5', '⁵'), '6', '⁶'), '7', '⁷'), '8', '⁸') : ''",
            "tickSize": {"condition": {"test": "abs(log(datum.value)/LN10 - round(log(datum.value)/LN10)) > 0.001", "value": 2}, "value": 4}
          }
        },
        "color": {
          "field": "s", "type": "nominal",
          "scale": {"domain": ["ξ=100.0","ξ=278.3","ξ=774.3","ξ=2154.4","ξ=5994.8"], "range": ["#0000ff","#008000","#bf00bf","#00bfbf","#ff0000"]},
          "legend": {"title": null}
        },
        "strokeDash": {
          "field": "s", "type": "nominal",
          "scale": {"domain": ["ξ=100.0","ξ=278.3","ξ=774.3","ξ=2154.4","ξ=5994.8"], "range": [[11,7],[8,9,2,9],[2,2.5],[11,22],[7,2.5,2,2.5,2,2.5]]},
          "legend": {"title": null}
        }
      }
    }
  ],
  "resolve": {"scale": {"x": "independent", "y": "independent", "color": "independent", "strokeDash": "independent"}},
  "config": {
    "font": "DejaVu Sans",
    "view": {"stroke": "black", "strokeWidth": 1},
    "axis": {
      "grid": false,
      "domainColor": "black",
      "tickColor": "black",
      "labelColor": "black",
      "labelFont": "DejaVu Sans",
      "labelFontSize": 14,
      "labelPadding": 3,
      "titleFont": "DejaVu Sans",
      "titleFontSize": 15.5,
      "titleFontWeight": "normal",
      "titleColor": "black"
    },
    "legend": {
      "orient": "top-left",
      "offset": 9,
      "labelFont": "DejaVu Sans",
      "labelFontSize": 16,
      "labelColor": "black",
      "strokeColor": "#cccccc",
      "fillColor": "rgba(255,255,255,0.8)",
      "cornerRadius": 4,
      "padding": 7,
      "symbolType": "stroke",
      "symbolSize": 1024,
      "symbolStrokeWidth": 2,
      "clipHeight": 18,
      "rowPadding": 6.7,
      "labelOffset": 14
    },
    "title": {
      "font": "DejaVu Sans",
      "fontSize": 16,
      "fontWeight": "normal",
      "color": "black"
    }
  }
}
